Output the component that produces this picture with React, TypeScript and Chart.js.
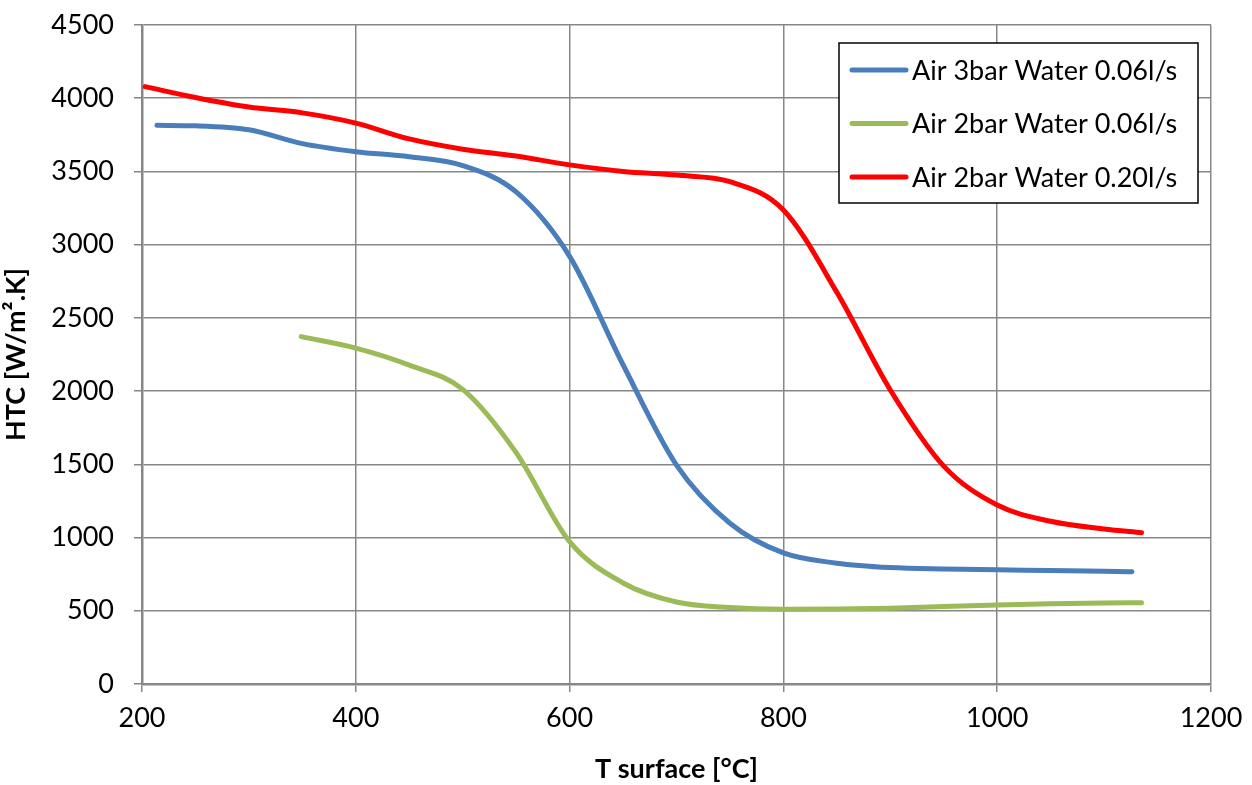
import React, { useEffect, useRef } from "react";
import { Chart, registerables } from "chart.js";

Chart.register(...registerables);

const seriesLabels = [
  "Air 3bar Water 0.06l/s",
  "Air 2bar Water 0.06l/s",
  "Air 2bar Water 0.20l/s",
];
const seriesColors = ["#4a7ebb", "#9bbb59", "#ff0000"];

const blueT = [214, 250, 300, 350, 400, 450, 500, 550, 600, 650, 700, 750, 800, 850, 900, 950, 1000, 1050, 1100, 1126];
const blueH = [3815, 3812, 3785, 3690, 3635, 3600, 3540, 3360, 2920, 2180, 1495, 1098, 895, 825, 795, 785, 780, 775, 770, 767];

const greenT = [349, 400, 450, 500, 550, 600, 650, 700, 750, 800, 850, 900, 950, 1000, 1050, 1100, 1135];
const greenH = [2372, 2294, 2178, 2012, 1580, 972, 690, 560, 522, 510, 512, 518, 530, 540, 548, 553, 555];

const redT = [203, 250, 300, 350, 400, 450, 500, 550, 600, 650, 700, 750, 800, 850, 900, 950, 1000, 1050, 1100, 1135];
const redH = [4079, 4005, 3940, 3900, 3830, 3722, 3652, 3605, 3545, 3500, 3475, 3430, 3237, 2675, 2008, 1488, 1222, 1111, 1058, 1033];

const xTicks = [200, 400, 600, 800, 1000, 1200];
const yTicks = [0, 500, 1000, 1500, 2000, 2500, 3000, 3500, 4000, 4500];

const FONT = "Lato, 'Open Sans', sans-serif";
const FS = 27;

const toPoints = (xs: number[], ys: number[]) => xs.map((x, i) => ({ x, y: ys[i] }));

const legendPlugin = {
  id: "insideLegend",
  afterDraw(chart: any) {
    const { ctx, chartArea } = chart;
    const left = chartArea.right - 372;
    const top = chartArea.top + 18;
    const w = 359;
    const h = 160;
    ctx.save();
    ctx.fillStyle = "#ffffff";
    ctx.fillRect(left, top, w, h);
    ctx.strokeStyle = "#000000";
    ctx.lineWidth = 1.5;
    ctx.strokeRect(left, top, w, h);
    chart.data.datasets.forEach((ds: any, i: number) => {
      const y = top + 27 + i * 53.5;
      ctx.beginPath();
      ctx.strokeStyle = ds.borderColor;
      ctx.lineWidth = 5;
      ctx.lineCap = "round";
      ctx.moveTo(left + 13, y);
      ctx.lineTo(left + 67, y);
      ctx.stroke();
      ctx.fillStyle = "#000000";
      ctx.font = `${FS}px ${FONT}`;
      ctx.textBaseline = "middle";
      ctx.textAlign = "left";
      ctx.fillText(ds.label, left + 73, y + 1);
    });
    ctx.restore();
  },
};

export default function App() {
  const ref = useRef<HTMLCanvasElement | null>(null);
  useEffect(() => {
    document.body.style.margin = "0";
    if (!ref.current) return;
    const gridColor = "#878787";
    const chart = new Chart(ref.current, {
      type: "scatter",
      data: {
        datasets: [
          { label: seriesLabels[0], data: toPoints(blueT, blueH), borderColor: seriesColors[0] },
          { label: seriesLabels[1], data: toPoints(greenT, greenH), borderColor: seriesColors[1] },
          { label: seriesLabels[2], data: toPoints(redT, redH), borderColor: seriesColors[2] },
        ].map((d) => ({
          ...d,
          showLine: true,
          borderWidth: 5,
          pointRadius: 0,
          pointHoverRadius: 0,
          cubicInterpolationMode: "monotone" as const,
          borderCapStyle: "round" as const,
          borderJoinStyle: "round" as const,
          backgroundColor: d.borderColor,
        })),
      },
      options: {
        animation: false,
        responsive: true,
        maintainAspectRatio: false,
        layout: { padding: { top: 25, right: 41, left: 0, bottom: 0 } },
        plugins: {
          legend: { display: false },
          tooltip: { enabled: false },
        },
        scales: {
          x: {
            type: "linear",
            min: 200,
            max: 1200,
            afterBuildTicks: (s: any) => {
              s.ticks = xTicks.map((v) => ({ value: v }));
            },
            afterFit: (s: any) => {
              s.height = 101;
              s.paddingLeft = 0;
              s.paddingRight = 0;
            },
            grid: { color: gridColor, lineWidth: 1.5, tickLength: 8, drawTicks: true },
            border: { color: gridColor, width: 2.5 },
            ticks: {
              color: "#000",
              font: { family: FONT, size: FS },
              padding: 10,
              maxRotation: 0,
              callback: (v: any) => String(v),
            },
            title: {
              display: true,
              text: "T surface [°C]",
              color: "#000",
              font: { family: FONT, size: FS, weight: "bold" },
              padding: { top: 0, bottom: 0 },
            },
          },
          y: {
            type: "linear",
            min: 0,
            max: 4500,
            afterBuildTicks: (s: any) => {
              s.ticks = yTicks.map((v) => ({ value: v }));
            },
            afterFit: (s: any) => {
              s.width = 142;
              s.paddingTop = 0;
              s.paddingBottom = 0;
            },
            grid: { color: gridColor, lineWidth: 1.5, tickLength: 8 },
            border: { color: gridColor, width: 2.5 },
            ticks: {
              color: "#000",
              font: { family: FONT, size: FS },
              padding: 20,
              callback: (v: any) => String(v),
            },
            title: {
              display: true,
              text: "HTC [W/m².K]",
              color: "#000",
              font: { family: FONT, size: FS, weight: "bold" },
              padding: { top: 0, bottom: 0 },
            },
          },
        },
      },
      plugins: [legendPlugin],
    } as any);
    return () => chart.destroy();
  }, []);
  return (
    <div style={{ position: "relative", width: 1252, height: 785 }}>
      <canvas ref={ref} />
    </div>
  );
}
